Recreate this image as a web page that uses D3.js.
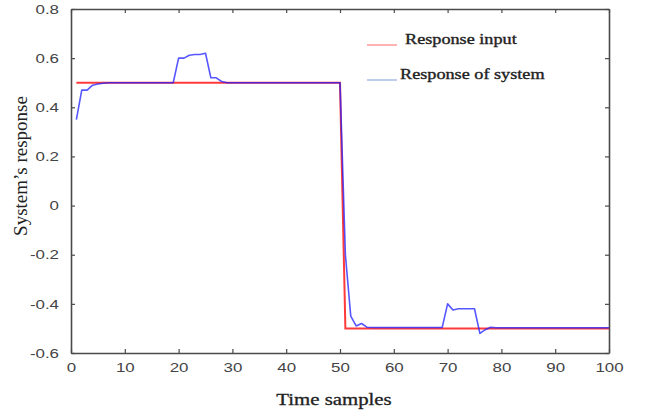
<!DOCTYPE html>
<html>
<head>
<meta charset="utf-8">
<script src="https://cdn.jsdelivr.net/npm/d3@7"></script>
<style>
    body { margin: 0; background: #fff; }
    svg { display: block; }
</style>
</head>
<body>
<svg id="chart" width="649" height="413"></svg>
<script>
// step input: break points of the reference signal
var inputTimes = [1, 50, 51, 100],
    inputValues = [0.5, 0.5, -0.5, -0.5];

// system output, one value per sample t = 1..100
var outputTimes = [1, 2, 3, 4, 5, 6, 7, 8, 9, 10,
    11, 12, 13, 14, 15, 16, 17, 18, 19, 20,
    21, 22, 23, 24, 25, 26, 27, 28, 29, 30,
    31, 32, 33, 34, 35, 36, 37, 38, 39, 40,
    41, 42, 43, 44, 45, 46, 47, 48, 49, 50,
    51, 52, 53, 54, 55, 56, 57, 58, 59, 60,
    61, 62, 63, 64, 65, 66, 67, 68, 69, 70,
    71, 72, 73, 74, 75, 76, 77, 78, 79, 80,
    81, 82, 83, 84, 85, 86, 87, 88, 89, 90,
    91, 92, 93, 94, 95, 96, 97, 98, 99, 100];
var outputValues = [0.35, 0.47, 0.47, 0.49, 0.495, 0.498, 0.5, 0.5, 0.5, 0.5,
    0.5, 0.5, 0.5, 0.5, 0.5, 0.5, 0.5, 0.5, 0.5, 0.6,
    0.6, 0.612, 0.615, 0.615, 0.62, 0.52, 0.52, 0.505, 0.5, 0.5,
    0.5, 0.5, 0.5, 0.5, 0.5, 0.5, 0.5, 0.5, 0.5, 0.5,
    0.5, 0.5, 0.5, 0.5, 0.5, 0.5, 0.5, 0.5, 0.5, 0.5,
    -0.2, -0.45, -0.49, -0.48, -0.495, -0.496, -0.496, -0.496, -0.496, -0.496,
    -0.496, -0.496, -0.496, -0.496, -0.496, -0.496, -0.496, -0.496, -0.496, -0.4,
    -0.425, -0.42, -0.42, -0.42, -0.42, -0.52, -0.505, -0.495, -0.497, -0.497,
    -0.497, -0.497, -0.497, -0.497, -0.497, -0.497, -0.497, -0.497, -0.497, -0.497,
    -0.497, -0.497, -0.497, -0.497, -0.497, -0.497, -0.497, -0.497, -0.497, -0.497];

var xTicks = [0, 10, 20, 30, 40, 50, 60, 70, 80, 90, 100],
    xTickLabels = ["0", "10", "20", "30", "40", "50", "60", "70", "80", "90", "100"],
    yTicks = [-0.6, -0.4, -0.2, 0, 0.2, 0.4, 0.6, 0.8],
    yTickLabels = ["-0.6", "-0.4", "-0.2", "0", "0.2", "0.4", "0.6", "0.8"];

var legendNames = ["Response input", "Response of system"];

var svg = d3.select("#chart"),
    margin = {top: 9, right: 40, bottom: 60, left: 71},
    width = 649 - margin.left - margin.right,
    height = 413 - margin.top - margin.bottom,
    g = svg.append("g").attr("transform", "translate(" + margin.left + "," + margin.top + ")");

var x = d3.scaleLinear().domain([0, 100]).range([0, width]),
    y = d3.scaleLinear().domain([-0.6, 0.8]).range([height, 0]);

// text in the reference is stretched sideways
var stretch = 1.3;
function widen(sel) {
    sel.each(function() {
        var w = this.getComputedTextLength();
        d3.select(this).attr("textLength", w * stretch).attr("lengthAdjust", "spacingAndGlyphs");
    });
}

var axisColor = "#4a4a4a";

// axes, ticks pointing inward
var xAxis = g.append("g")
    .attr("transform", "translate(0," + height + ")")
    .call(d3.axisBottom(x).tickValues(xTicks).tickSizeInner(-4).tickSizeOuter(0)
        .tickPadding(10).tickFormat(function(d, i) { return xTickLabels[i]; }));
var yAxis = g.append("g")
    .call(d3.axisLeft(y).tickValues(yTicks).tickSizeInner(-4).tickSizeOuter(0)
        .tickPadding(12).tickFormat(function(d, i) { return yTickLabels[i]; }));
var yAxisR = g.append("g")
    .attr("transform", "translate(" + width + ",0)")
    .call(d3.axisRight(y).tickValues(yTicks).tickSizeInner(-4).tickSizeOuter(0).tickFormat(""));
var xAxisT = g.append("g")
    .call(d3.axisTop(x).tickValues(xTicks).tickSizeInner(-4).tickSizeOuter(0).tickFormat(""));

[xAxis, yAxis, yAxisR, xAxisT].forEach(function(a) {
    a.select(".domain").attr("stroke", axisColor).attr("stroke-width", 1.6);
    a.selectAll(".tick line").attr("stroke", axisColor).attr("stroke-width", 1.2);
    a.selectAll(".tick text")
        .attr("fill", "#444")
        .style("font-family", "'Liberation Sans', Arial, sans-serif")
        .style("font-size", "13px");
});
xAxis.selectAll(".tick text").call(widen);
yAxis.selectAll(".tick text").call(widen);

var inputData = inputTimes.map(function(t, i) { return [t, inputValues[i]]; }),
    outputData = outputTimes.map(function(t, i) { return [t, outputValues[i]]; });

var line = d3.line()
    .x(function(d) { return x(d[0]); })
    .y(function(d) { return y(d[1]); });

g.append("path")
    .datum(inputData)
    .attr("fill", "none")
    .attr("stroke", "#ff3a3a")
    .attr("stroke-width", 2)
    .attr("d", line);

g.append("path")
    .datum(outputData)
    .attr("fill", "none")
    .attr("stroke", "#1f1fff")
    .attr("stroke-opacity", 0.75)
    .attr("stroke-width", 1.6)
    .attr("stroke-linejoin", "round")
    .attr("d", line);

// legend
var legendColors = ["#ff9a9a", "#a9bde8"],
    legendRows = [{lx: 367, ly: 45, tx: 405, ty: 44}, {lx: 367, ly: 80, tx: 400, ty: 79}];

var legend = svg.append("g").selectAll("g")
    .data(legendNames)
    .enter().append("g");
legend.append("line")
    .attr("x1", function(d, i) { return legendRows[i].lx; })
    .attr("x2", function(d, i) { return legendRows[i].lx + 30; })
    .attr("y1", function(d, i) { return legendRows[i].ly; })
    .attr("y2", function(d, i) { return legendRows[i].ly; })
    .attr("stroke", function(d, i) { return legendColors[i]; })
    .attr("stroke-width", 1.5);
legend.append("text")
    .attr("x", function(d, i) { return legendRows[i].tx; })
    .attr("y", function(d, i) { return legendRows[i].ty; })
    .attr("fill", "#222")
    .attr("stroke", "#222")
    .attr("stroke-width", 0.35)
    .style("font-family", "'Liberation Serif', 'Times New Roman', serif")
    .style("font-size", "14px")
    .text(function(d) { return d; })
    .call(widen);

// axis titles
svg.append("text")
    .attr("x", 334)
    .attr("y", 405)
    .attr("text-anchor", "middle")
    .attr("fill", "#222")
    .attr("stroke", "#222")
    .attr("stroke-width", 0.3)
    .style("font-family", "'Liberation Serif', 'Times New Roman', serif")
    .style("font-size", "16px")
    .text("Time samples")
    .call(widen);

svg.append("text")
    .attr("transform", "translate(27,166) rotate(-90)")
    .attr("text-anchor", "middle")
    .attr("fill", "#222")
    .style("font-family", "'Liberation Serif', 'Times New Roman', serif")
    .style("font-size", "19px")
    .text("System\u2019s response");
</script>
</body>
</html>
